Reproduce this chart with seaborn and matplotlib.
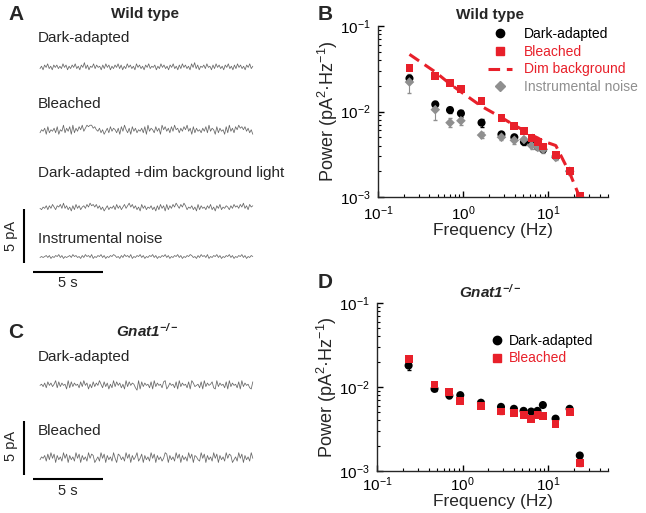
import numpy as np
import pandas as pd
import matplotlib
matplotlib.use("Agg")
import matplotlib.pyplot as plt
import seaborn as sns
from matplotlib.lines import Line2D

# ---------------- data ----------------
freq = [0.234, 0.47, 0.70, 0.94, 1.64, 2.81, 3.98, 5.16, 6.33, 7.50, 8.67, 12.2, 17.8, 23.4]

wt_dark = [0.0244, 0.0121, 0.0104, 0.0095, 0.0074, 0.0054, 0.0050, 0.0044, 0.0042, 0.00385, 0.0036, 0.0030, 0.0020, 0.0010]
wt_dark_err = [0.0022, 0.0010, 0.0008, 0.0008, 0.0008, 0.0004, 0.0003, 0.0003, 0.0003, 0.0002, 0.0002, 0.0002, 0.0001, 0.0001]
wt_bleached = [0.0325, 0.0260, 0.0213, 0.0183, 0.0132, 0.0084, 0.0067, 0.0059, 0.0049, 0.0044, 0.0039, 0.0031, 0.0020, 0.00102]
wt_bleached_err = [0.0020, 0.0013, 0.0010, 0.0009, 0.0007, 0.0004, 0.0003, 0.0003, 0.0003, 0.0002, 0.0002, 0.0002, 0.0001, 0.0001]
wt_dim = [0.0466, 0.0290, 0.0210, 0.0170, 0.0115, 0.0085, 0.0069, 0.0060, 0.0053, 0.0049, 0.0045, 0.0040, 0.0019, 0.00098]
wt_instr = [0.0221, 0.0105, 0.0074, 0.0078, 0.0053, 0.0050, 0.0046, 0.0047, 0.0040, 0.0038, 0.0036, 0.0029, 0.0020, 0.0010]
wt_instr_err = [0.0055, 0.0025, 0.0009, 0.0009, 0.0004, 0.0004, 0.0004, 0.0004, 0.0004, 0.0003, 0.0003, 0.0002, 0.0002, 0.0001]

gn_dark = [0.0180, 0.0095, 0.0079, 0.0080, 0.0065, 0.0058, 0.0055, 0.0052, 0.0051, 0.0052, 0.0061, 0.0042, 0.0055, 0.00153]
gn_dark_err = [0.0022, 0.0006, 0.0005, 0.0004, 0.0003, 0.0003, 0.0002, 0.0002, 0.0002, 0.0002, 0.0002, 0.0002, 0.0002, 0.0001]
gn_bleached = [0.0216, 0.0107, 0.0087, 0.0068, 0.0059, 0.0051, 0.0049, 0.0046, 0.0042, 0.0046, 0.0045, 0.0036, 0.0050, 0.00125]
gn_bleached_err = [0.0012, 0.0006, 0.0005, 0.0004, 0.0003, 0.0003, 0.0002, 0.0002, 0.0002, 0.0002, 0.0002, 0.0002, 0.0002, 0.0001]

# current noise traces (digit levels, 0..9)
trace_wt_dark = "46375846375746485736475846375947365847563748573647584736485746385746375846573648574637584637485746385947365748563748574637584637485746375846"
trace_wt_bleached = "46573846574836594758394758695798997865746357485764738596473857465748395764857396857485967475869573847564758495763847563849574869786857463"
trace_wt_dim = "54657475864768595746374857467586978685746357465748574685796857463857465746374857384758697586974657463847564758463758465764758675869574867"
trace_wt_instr = "45456463546574635456475645364756473546574635465764536475647354657463546574635465746354657463546576453647564735465746354657463546574635465"
trace_gn_dark = "56473857469384756293847563849572638475963847263948573629485763192847563829475638924756382947563829745638294756832947563829475638294756328"
trace_gn_bleached = "46573849582746395827463958274639587246395827463952874639582746935827463958274635982746395827463958276439582746395827463958724639582746395"

red = "#e8202a"
gray = "#8f8f8f"

# ---------------- style ----------------
sns.set_theme(style="ticks")
plt.rcParams["font.family"] = ["Liberation Sans", "DejaVu Sans"]
plt.rcParams.update({
    "mathtext.fontset": "custom",
    "mathtext.rm": "Liberation Sans",
    "mathtext.it": "Liberation Sans:italic",
    "mathtext.bf": "Liberation Sans:bold",
    "mathtext.bfit": "Liberation Sans:italic:bold",
    "mathtext.default": "regular",
    "axes.linewidth": 1.0,
})

W, H = 646, 513
fig = plt.figure(figsize=(W / 100, H / 100), dpi=100)


def fx(x):
    return x / W


def fy(y):
    return 1 - y / H


# ---------------- left column: traces ----------------
PX_PER_S = 14.0
PX_PER_PA = 10.8
axL = fig.add_axes([0, 0, 320 / W, 1])
axL.set_xlim(-40 / PX_PER_S, 280 / PX_PER_S)
axL.set_ylim(-H / PX_PER_PA, 0)
axL.axis("off")

traces = [
    (trace_wt_dark, 68, 0.11),
    (trace_wt_bleached, 132, 0.14),
    (trace_wt_dim, 209, 0.12),
    (trace_wt_instr, 257, 0.09),
    (trace_gn_dark, 386, 0.11),
    (trace_gn_bleached, 459, 0.13),
]
for s, base_px, sc in traces:
    d = np.array([int(c) for c in s], dtype=float)
    t = np.linspace(0, 15.2, len(d))
    y = -base_px / PX_PER_PA + (d - 4.5) * sc
    sns.lineplot(x=t, y=y, ax=axL, color="#666666", lw=0.55, sort=False)

# scale bars
for top_px, hbar_px in [(209, 272), (421, 479)]:
    xb = (24 - 40) / PX_PER_S
    yt = -top_px / PX_PER_PA
    axL.plot([xb, xb], [yt, yt - 5], color="black", lw=1.5, solid_capstyle="butt")
    yh = -hbar_px / PX_PER_PA
    x0 = (33 - 40) / PX_PER_S
    axL.plot([x0, x0 + 5], [yh, yh], color="black", lw=1.5, solid_capstyle="butt")

for ycen in (236, 446):
    fig.text(fx(11), fy(ycen), "5 pA", rotation=90, ha="center", va="center", fontsize=10.5)
for ycen in (283, 491):
    fig.text(fx(68), fy(ycen), "5 s", ha="center", va="center", fontsize=10.5)

fig.text(fx(8), fy(14), "A", fontsize=15, fontweight="bold", ha="left", va="center")
fig.text(fx(145), fy(14), "Wild type", fontsize=11, fontweight="bold", ha="center", va="center")
fig.text(fx(38), fy(38), "Dark-adapted", fontsize=11, ha="left", va="center")
fig.text(fx(38), fy(104), "Bleached", fontsize=11, ha="left", va="center")
fig.text(fx(38), fy(173), "Dark-adapted +dim background light", fontsize=11, ha="left", va="center")
fig.text(fx(38), fy(239), "Instrumental noise", fontsize=11, ha="left", va="center")

fig.text(fx(8), fy(332), "C", fontsize=15, fontweight="bold", ha="left", va="center")
fig.text(fx(147), fy(331), r"$\mathbfit{Gnat1}^{\mathbfit{-/-}}$", fontsize=11, ha="center", va="center")
fig.text(fx(38), fy(357), "Dark-adapted", fontsize=11, ha="left", va="center")
fig.text(fx(38), fy(431), "Bleached", fontsize=11, ha="left", va="center")


# ---------------- spectra panels ----------------
def style_axis(ax, xpad=5, xlabelpad=0):
    ax.set_xscale("log")
    ax.set_yscale("log")
    ax.set_xlim(0.1, 50)
    ax.set_ylim(1e-3, 1e-1)
    sns.despine(ax=ax)
    ax.tick_params(which="both", direction="in", labelsize=11, colors="black")
    ax.tick_params(which="major", length=4, width=1)
    ax.tick_params(which="minor", length=2.5, width=0.8)
    ax.tick_params(axis="x", which="major", pad=xpad)
    ax.tick_params(axis="y", which="major", pad=5)
    ax.set_xticks([0.1, 1, 10])
    ax.set_yticks([1e-3, 1e-2, 1e-1])
    ax.set_xlabel("Frequency (Hz)", fontsize=12.5, labelpad=xlabelpad)
    ax.set_ylabel(r"Power (pA$^{2}$·Hz$^{-1}$)", fontsize=13, labelpad=0)
    ax.grid(False)


axB = fig.add_axes([fx(378), fy(197), 230 / W, 171 / H])
axB.errorbar(freq, wt_dark, yerr=wt_dark_err, fmt="none", ecolor="black", elinewidth=0.8, capsize=1.5, zorder=2)
axB.errorbar(freq, wt_instr, yerr=wt_instr_err, fmt="none", ecolor=gray, elinewidth=0.8, capsize=1.5, zorder=2)
axB.errorbar(freq, wt_bleached, yerr=wt_bleached_err, fmt="none", ecolor=red, elinewidth=0.8, capsize=1.5, zorder=2)
sns.scatterplot(x=freq, y=wt_dark, ax=axB, marker="o", color="black", s=34, edgecolor="none", zorder=3)
sns.scatterplot(x=freq, y=wt_instr, ax=axB, marker="D", color=gray, s=24, edgecolor="none", zorder=3)
sns.scatterplot(x=freq, y=wt_bleached, ax=axB, marker="s", color=red, s=32, edgecolor="none", zorder=3)
sns.lineplot(x=freq, y=wt_dim, ax=axB, color=red, lw=2.2, zorder=4)
axB.lines[-1].set_dashes([3.8, 2.2])
style_axis(axB, xpad=5, xlabelpad=0)

handlesB = [
    Line2D([], [], marker="o", ls="none", color="black", markersize=6),
    Line2D([], [], marker="s", ls="none", color=red, markersize=5.5),
    Line2D([], [], ls=(0, (3.8, 2.2)), color=red, lw=2.2),
    Line2D([], [], marker="D", ls="none", color=gray, markersize=5),
]
fig.legend(handlesB, ["Dark-adapted", "Bleached", "Dim background", "Instrumental noise"],
           loc="upper left", bbox_to_anchor=(fx(488), fy(27)), frameon=False, fontsize=10,
           labelcolor=["black", red, red, gray], handlelength=1.7, handletextpad=0.9,
           labelspacing=0.27, borderpad=0, borderaxespad=0)

fig.text(fx(318), fy(14), "B", fontsize=15, fontweight="bold", ha="left", va="center")
fig.text(fx(490), fy(15), "Wild type", fontsize=11, fontweight="bold", ha="center", va="center")

axD = fig.add_axes([fx(377), fy(471), 231 / W, 168 / H])
axD.errorbar(freq, gn_dark, yerr=gn_dark_err, fmt="none", ecolor="black", elinewidth=0.8, capsize=1.5, zorder=2)
axD.errorbar(freq, gn_bleached, yerr=gn_bleached_err, fmt="none", ecolor=red, elinewidth=0.8, capsize=1.5, zorder=2)
sns.scatterplot(x=freq, y=gn_dark, ax=axD, marker="o", color="black", s=34, edgecolor="none", zorder=3)
sns.scatterplot(x=freq, y=gn_bleached, ax=axD, marker="s", color=red, s=32, edgecolor="none", zorder=3)
style_axis(axD, xpad=3.5, xlabelpad=0)

handlesD = [
    Line2D([], [], marker="o", ls="none", color="black", markersize=6),
    Line2D([], [], marker="s", ls="none", color=red, markersize=5.5),
]
fig.legend(handlesD, ["Dark-adapted", "Bleached"],
           loc="upper left", bbox_to_anchor=(fx(491), fy(334)), frameon=False, fontsize=10,
           labelcolor=["black", red], handlelength=0.8, handletextpad=0.5,
           labelspacing=0.25, borderpad=0, borderaxespad=0)

fig.text(fx(318), fy(283), "D", fontsize=15, fontweight="bold", ha="left", va="center")
fig.text(fx(490), fy(292), r"$\mathbfit{Gnat1}^{\mathbfit{-/-}}$", fontsize=11, ha="center", va="center")

fig.savefig("out.png", dpi=100)
